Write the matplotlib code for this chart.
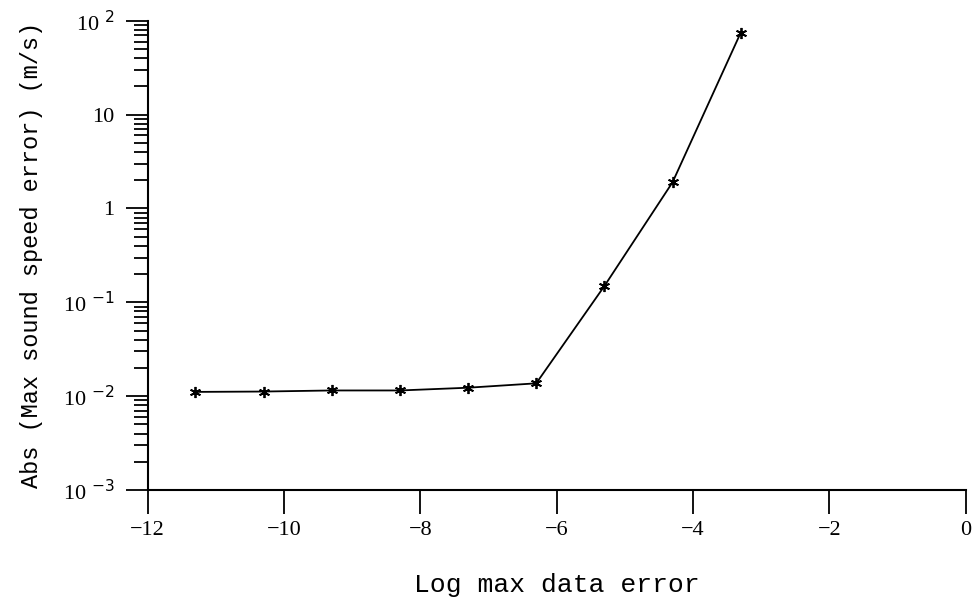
import matplotlib
matplotlib.use("Agg")
import matplotlib.pyplot as plt
from matplotlib.ticker import FixedLocator, LogLocator, NullFormatter

log_data_error = [-11.3, -10.3, -9.3, -8.3, -7.3, -6.3, -5.3, -4.3, -3.3]
sound_speed_error = [0.0111, 0.0112, 0.0115, 0.0115, 0.0123, 0.0137, 0.149, 1.9, 74.5]

x_ticks = [-12, -10, -8, -6, -4, -2, 0]
x_tick_labels = ["\u221212", "\u221210", "\u22128", "\u22126", "\u22124", "\u22122", "0"]
y_ticks = [1e-3, 1e-2, 1e-1, 1, 10, 100]
y_tick_labels = ["10 $^{-3}$", "10 $^{-2}$", "10 $^{-1}$", "1", "10", "10 $^{2}$"]

fig = plt.figure(figsize=(9.75, 5.97), dpi=100)
ax = fig.add_axes([0.1515, 0.1792, 0.8389, 0.7861])

ax.plot(log_data_error, sound_speed_error, color="black", lw=1.3,
        marker=(6, 2, 0), markersize=8, markeredgewidth=1.3)

ax.set_yscale("log")
ax.set_xlim(-12, 0)
ax.set_ylim(1e-3, 1e2)

ax.spines["top"].set_visible(False)
ax.spines["right"].set_visible(False)
ax.spines["left"].set_linewidth(1.5)
ax.spines["bottom"].set_linewidth(1.5)

ax.set_xticks(x_ticks)
ax.set_xticklabels(x_tick_labels, fontfamily="Liberation Serif", fontsize=16)
ax.yaxis.set_major_locator(FixedLocator(y_ticks))
ax.set_yticklabels(y_tick_labels, fontfamily="Liberation Serif", fontsize=16)
ax.yaxis.set_minor_locator(LogLocator(base=10, subs=range(2, 10), numticks=20))
ax.yaxis.set_minor_formatter(NullFormatter())

ax.tick_params(axis="x", direction="out", length=17, width=1.3, pad=5)
ax.tick_params(axis="y", which="major", direction="out", length=16, width=1.3, pad=8)
ax.tick_params(axis="y", which="minor", direction="out", length=10, width=1.3)

ax.set_xlabel("Log max data error", fontfamily="Liberation Mono", fontsize=19, labelpad=24)
ax.set_ylabel("Abs (Max sound speed error) (m/s)", fontfamily="Liberation Mono",
              fontsize=17, labelpad=14)

fig.savefig("out.png", dpi=100)
